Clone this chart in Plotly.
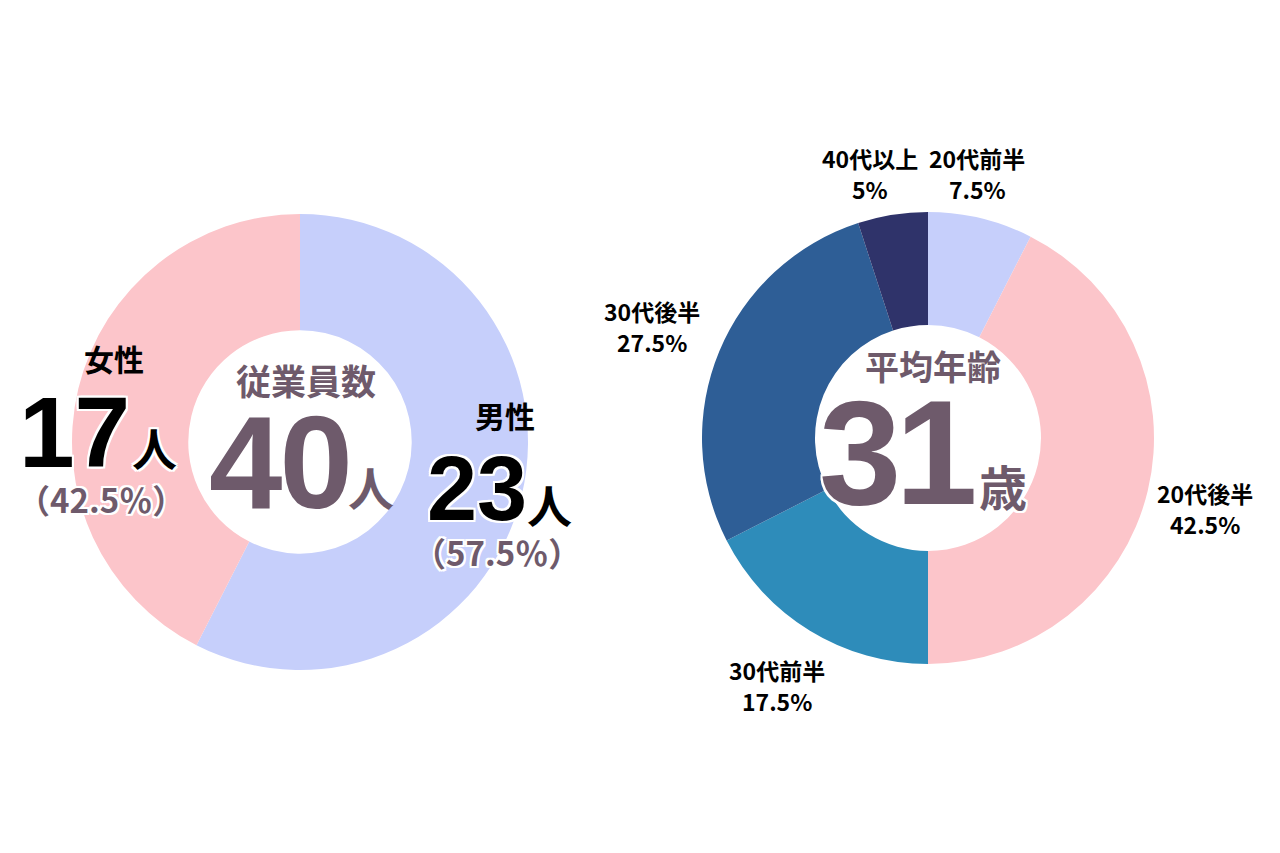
import plotly.graph_objects as go

W, H = 1280, 853
OFF = 8  # page body margin

# --- data ---
gender_labels = ["男性", "女性"]
gender_counts = [23, 17]
gender_colors = ["#C6CFFB", "#FCC5CA"]

age_labels = ["20代前半", "20代後半", "30代前半", "30代後半", "40代以上"]
age_shares = [7.5, 42.5, 17.5, 27.5, 5]
age_colors = ["#C6CFFB", "#FCC5CA", "#2E8CBA", "#2E5E96", "#2F336A"]

total_employees = 40
average_age = 31

CJK = "Noto Sans CJK JP"
NUM = "Liberation Sans"
MAUVE = "#6E5A6B"
WHITE_OUTLINE = "white 2px 0 0, white -2px 0 0, white 0 2px 0, white 0 -2px 0, white 2px 2px 0, white -2px -2px 0, white 2px -2px 0, white -2px 2px 0"


def px(x0, x1):
    return [(x0 - OFF) / W, (x1 - OFF) / W]


def py(y0, y1):
    return [1 - (y1 - OFF) / H, 1 - (y0 - OFF) / H]


fig = go.Figure()

fig.add_trace(go.Pie(
    labels=gender_labels, values=gender_counts,
    marker=dict(colors=gender_colors, line=dict(width=0)),
    hole=0.49, sort=False, direction="clockwise", rotation=0,
    textinfo="none", showlegend=False,
    domain=dict(x=px(72, 528), y=py(214, 670)),
))

fig.add_trace(go.Pie(
    labels=age_labels, values=age_shares,
    marker=dict(colors=age_colors, line=dict(width=0)),
    hole=0.5, sort=False, direction="clockwise", rotation=0,
    textinfo="none", showlegend=False,
    domain=dict(x=px(702, 1154), y=py(212, 664)),
))


def ann(text, x, y, size, color="black", family=CJK, shadow=None, xanchor="center", yanchor="middle"):
    f = dict(family=family, size=size, color=color, weight="bold")
    if shadow:
        f["shadow"] = shadow
    fig.add_annotation(
        text=text, x=(x - OFF) / W, y=1 - (y - OFF) / H, xref="paper", yref="paper",
        xanchor=xanchor, yanchor=yanchor, showarrow=False, font=f,
    )


def tight(s, ls):
    return f"<span style='letter-spacing:{ls}px'>{s}</span>"


pct_f = 100 * gender_counts[1] / total_employees
pct_m = 100 * gender_counts[0] / total_employees

# Left donut texts
ann("女性", 114, 358, 30)
ann(str(gender_counts[1]), 132, 432, 100, family=NUM, shadow=WHITE_OUTLINE, xanchor="right")
ann("人", 130, 447, 45, shadow=WHITE_OUTLINE, xanchor="left")
ann(f"（{pct_f:.1f}％）", 101, 499, 33, color=MAUVE, shadow=WHITE_OUTLINE)

ann("従業員数", 306, 379, 35, color=MAUVE)
ann(tight(total_employees, -3), 352, 462, 132, color=MAUVE, family=NUM, xanchor="right")
ann("人", 346, 486, 46, color=MAUVE, xanchor="left")

ann("男性", 505, 415, 30)
ann(str(gender_counts[0]), 529, 489, 90, family=NUM, shadow=WHITE_OUTLINE, xanchor="right")
ann("人", 525, 504, 45, shadow=WHITE_OUTLINE, xanchor="left")
ann(f"（{pct_m:.1f}％）", 497, 552, 33, color=MAUVE, shadow=WHITE_OUTLINE)

# Right donut texts
ann("平均年齢", 933, 365, 34, color=MAUVE)
ann(tight(average_age, -6), 976, 452, 148, color=MAUVE, family=NUM, shadow=WHITE_OUTLINE, xanchor="right")
ann("歳", 977, 485, 48, color=MAUVE, shadow=WHITE_OUTLINE, xanchor="left")

label_pos = {
    "20代前半": (977, 173),
    "20代後半": (1205, 508),
    "30代前半": (777, 685),
    "30代後半": (652, 326),
    "40代以上": (870, 173),
}
for lab, val in zip(age_labels, age_shares):
    x, y = label_pos[lab]
    ann(lab, x, y - 15, 23)
    ann(f"{val:g}%", x, y + 16, 23)

fig.update_layout(
    width=W, height=H,
    margin=dict(l=0, r=0, t=0, b=0),
    paper_bgcolor="white", plot_bgcolor="white",
)

fig.write_html("out.html")
